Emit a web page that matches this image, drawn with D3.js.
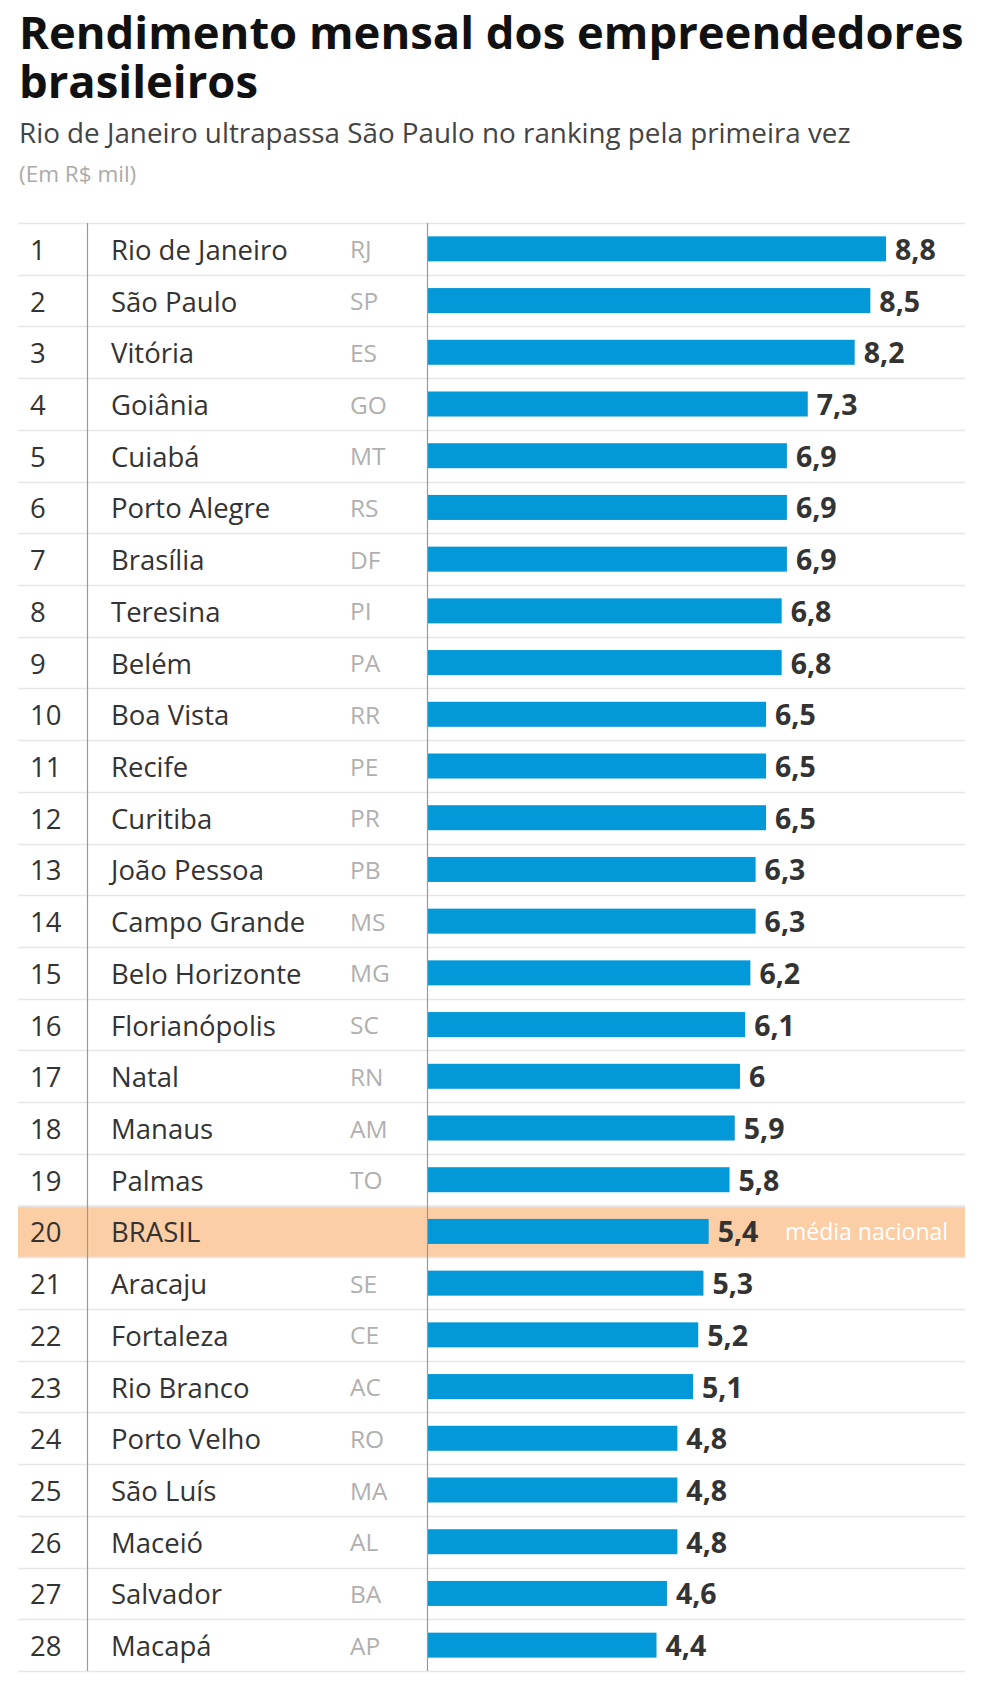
<!DOCTYPE html>
<html>
<head>
<meta charset="utf-8">
<script src="https://cdn.jsdelivr.net/npm/d3@7"></script>
<style>
  html, body { margin: 0; padding: 0; background: #fff; }
  svg { display: block; font-family: "Open Sans", sans-serif; }
</style>
</head>
<body>
<svg id="chart" width="984" height="1706"></svg>
<script>
const ranks = [1,2,3,4,5,6,7,8,9,10,11,12,13,14,15,16,17,18,19,20,21,22,23,24,25,26,27,28];
const cities = ["Rio de Janeiro","São Paulo","Vitória","Goiânia","Cuiabá","Porto Alegre","Brasília","Teresina","Belém","Boa Vista","Recife","Curitiba","João Pessoa","Campo Grande","Belo Horizonte","Florianópolis","Natal","Manaus","Palmas","BRASIL","Aracaju","Fortaleza","Rio Branco","Porto Velho","São Luís","Maceió","Salvador","Macapá"];
const states = ["RJ","SP","ES","GO","MT","RS","DF","PI","PA","RR","PE","PR","PB","MS","MG","SC","RN","AM","TO","","SE","CE","AC","RO","MA","AL","BA","AP"];
const values = [8.8,8.5,8.2,7.3,6.9,6.9,6.9,6.8,6.8,6.5,6.5,6.5,6.3,6.3,6.2,6.1,6,5.9,5.8,5.4,5.3,5.2,5.1,4.8,4.8,4.8,4.6,4.4];
const highlightCity = "BRASIL";
const highlightNote = "média nacional";

const rows = ranks.map((r, i) => ({rank: r, city: cities[i], uf: states[i], value: values[i]}));

const svg = d3.select("#chart");

// Titles
svg.append("text").attr("x", 19).attr("y", 49)
  .attr("font-size", 45.4).attr("font-weight", 700).attr("fill", "#111")
  .text("Rendimento mensal dos empreendedores");
svg.append("text").attr("x", 19).attr("y", 98)
  .attr("font-size", 45.4).attr("font-weight", 700).attr("fill", "#111")
  .text("brasileiros");
svg.append("text").attr("x", 19).attr("y", 143)
  .attr("font-size", 27.8).attr("fill", "#444")
  .text("Rio de Janeiro ultrapassa São Paulo no ranking pela primeira vez");
svg.append("text").attr("x", 19).attr("y", 182)
  .attr("font-size", 22.5).attr("fill", "#aaa")
  .text("(Em R$ mil)");

const left = 18, right = 965;
const xCol1 = 87, xCol2 = 427;

const y = d3.scaleBand().domain(ranks).range([223, 1671]).padding(0);
const x = d3.scaleLinear().domain([0, 8.8]).range([xCol2, 886]);
const fmt = v => String(v).replace(".", ",");

// highlight band
rows.filter(d => d.city === highlightCity).forEach(d => {
  svg.append("rect").attr("x", left).attr("y", y(d.rank))
    .attr("width", right - left).attr("height", y.bandwidth())
    .attr("fill", "#fccea5");
});

// horizontal rules
const lines = [y(ranks[0])].concat(ranks.map(r => y(r) + y.bandwidth()));
svg.append("g").selectAll("line").data(lines).join("line")
  .attr("x1", left).attr("x2", right)
  .attr("y1", d => Math.round(d) + 0.5).attr("y2", d => Math.round(d) + 0.5)
  .attr("stroke", "#e6e6e6").attr("stroke-width", 1.5);

// bars
const barH = 25;
svg.append("g").selectAll("rect").data(rows).join("rect")
  .attr("x", x(0)).attr("y", d => y(d.rank) + y.bandwidth() / 2 - barH / 2)
  .attr("width", d => x(d.value) - x(0)).attr("height", barH)
  .attr("fill", "#0398d8");

// vertical lines
[xCol1, xCol2].forEach(xx => {
  svg.append("line").attr("x1", xx + 0.5).attr("x2", xx + 0.5)
    .attr("y1", 223).attr("y2", 1671)
    .attr("stroke", "#999").attr("stroke-width", 1.2);
});

const cy = d => y(d.rank) + y.bandwidth() / 2;

const g = svg.append("g");
g.selectAll(".rank").data(rows).join("text").attr("class", "rank")
  .attr("x", 30).attr("y", d => cy(d) + 11)
  .attr("font-size", 27.5).attr("fill", "#333").text(d => d.rank);
g.selectAll(".city").data(rows).join("text").attr("class", "city")
  .attr("x", 111).attr("y", d => cy(d) + 11)
  .attr("font-size", 27.5).attr("fill", "#333").text(d => d.city);
g.selectAll(".uf").data(rows).join("text").attr("class", "uf")
  .attr("x", 350).attr("y", d => cy(d) + 9.5)
  .attr("font-size", 24.5).attr("fill", "#b0b0b0").text(d => d.uf);
g.selectAll(".val").data(rows).join("text").attr("class", "val")
  .attr("x", d => x(d.value) + 9).attr("y", d => cy(d) + 11)
  .attr("font-size", 28.5).attr("font-weight", 700).attr("fill", "#333").text(d => fmt(d.value));

rows.filter(d => d.city === highlightCity).forEach(d => {
  g.append("text").attr("x", 785).attr("y", cy(d) + 9)
    .attr("font-size", 23).attr("fill", "#fff").text(highlightNote);
});
</script>
</body>
</html>
